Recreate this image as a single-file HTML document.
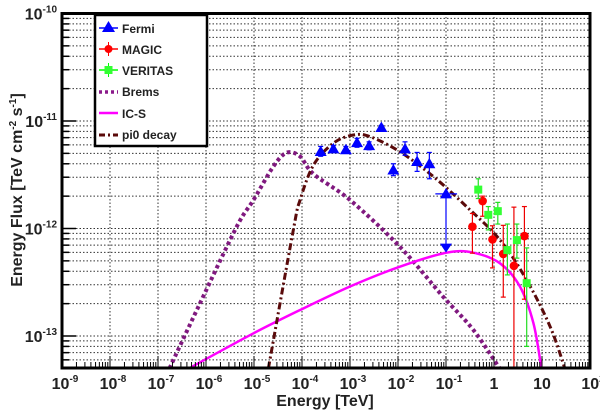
<!DOCTYPE html>
<html><head><meta charset="utf-8"><style>
html,body{margin:0;padding:0;background:#fff;}
svg{display:block;font-family:"Liberation Sans",sans-serif;font-weight:bold;}
</style></head><body>
<svg id="chart" width="600" height="416" viewBox="0 0 600 416">
<g id="grid"></g>
<g id="curves"></g>
<g id="points"></g>
<g id="axes"></g>
<text x="325" y="406" text-anchor="middle" font-size="16" fill="#222">Energy [TeV]</text>
<text transform="translate(22,190) rotate(-90)" text-anchor="middle" font-size="16" fill="#222">Energy Flux [TeV cm<tspan dy="-6" font-size="10">-2</tspan><tspan dy="6"> s</tspan><tspan dy="-6" font-size="10">-1</tspan><tspan dy="6">]</tspan></text>
<g>
<rect x="95" y="15" width="112" height="131" fill="#fff" stroke="#000" stroke-width="2.5"/>
<g><line x1="99" y1="28" x2="118" y2="28" stroke="#00f" stroke-width="1.5"/><polygon points="108.5,21 115,32 102,32" fill="#00f"/><text x="122" y="33" font-size="12" fill="#222">Fermi</text></g>
<g><line x1="99" y1="49" x2="118" y2="49" stroke="#f00" stroke-width="1.5"/><line x1="108.5" y1="42" x2="108.5" y2="56" stroke="#f00"/><circle cx="108.5" cy="49" r="4" fill="#f00"/><text x="122" y="54" font-size="12" fill="#222">MAGIC</text></g>
<g><line x1="99" y1="70" x2="118" y2="70" stroke="#0f0" stroke-width="1.5"/><line x1="108.5" y1="63" x2="108.5" y2="77" stroke="#0f0"/><rect x="104.5" y="66" width="8" height="8" fill="#3f3"/><text x="122" y="75" font-size="12" fill="#222">VERITAS</text></g>
<g><line x1="99" y1="92" x2="118" y2="92" stroke="#8b1a8b" stroke-width="3.5" stroke-dasharray="3,3"/><text x="122" y="96" font-size="12" fill="#222">Brems</text></g>
<g><line x1="99" y1="113" x2="118" y2="113" stroke="#f0f" stroke-width="2.5"/><text x="122" y="118" font-size="12" fill="#222">IC-S</text></g>
<g><line x1="99" y1="135" x2="118" y2="135" stroke="#5a0a0a" stroke-width="3" stroke-dasharray="6,3,2,3"/><text x="122" y="139" font-size="12" fill="#222">pi0 decay</text></g>
</g>
</svg>
<script>
const xTickExps = [-9,-8,-7,-6,-5,-4,-3,-2,-1,0,1,2];
const xTickLabels = ["10^-9","10^-8","10^-7","10^-6","10^-5","10^-4","10^-3","10^-2","10^-1","1","10","10^2"];
const yTickExps = [-13,-12,-11,-10];
const yTickLabels = ["10^-13","10^-12","10^-11","10^-10"];

const fermiE = [2.45e-4,4.5e-4,8.2e-4,1.4e-3,2.5e-3,4.5e-3,8e-3,1.4e-2,2.5e-2,4.5e-2];
const fermiF = [5.2e-12,5.5e-12,5.4e-12,6.3e-12,5.9e-12,8.7e-12,3.5e-12,5.5e-12,4.2e-12,4.0e-12];
const fermiErrLo = [4.7e-12,5.1e-12,5.0e-12,5.7e-12,5.4e-12,8.3e-12,3.1e-12,4.8e-12,3.4e-12,2.9e-12];
const fermiErrHi = [5.8e-12,5.9e-12,5.8e-12,6.9e-12,6.4e-12,9.1e-12,4.0e-12,6.4e-12,5.1e-12,5.1e-12];
const fermiUL_E = [0.1];
const fermiUL_F = [2.1e-12];
const fermiUL_Arrow = [6.1e-13];
const fermiUL_Elo = [0.06];
const fermiUL_Ehi = [0.17];

const magicE = [0.355,0.58,0.93,1.56,2.6,4.3];
const magicF = [1.04e-12,1.8e-12,7.9e-13,5.8e-13,4.5e-13,8.5e-13];
const magicLo = [5.9e-13,1.3e-12,4.3e-13,2.3e-13,1e-14,2.2e-13];
const magicHi = [1.38e-12,2.0e-12,1.06e-12,1.07e-12,1.58e-12,1.6e-12];

const veritasE = [0.47,0.76,1.2,1.9,3.0,4.8];
const veritasF = [2.3e-12,1.34e-12,1.45e-12,6.3e-13,7.8e-13,3.1e-13];
const veritasLo = [1.9e-12,9.7e-13,1.1e-12,3.7e-13,5.3e-13,8e-14];
const veritasHi = [2.9e-12,1.6e-12,1.75e-12,1.1e-12,1.1e-12,6.6e-13];

const bremsLogE = [-6.76,-6.125,-5.36,-5.01,-4.6,-4.32,-4.04,-3.76,-3.0,-1.96,-1.06,-0.43,0.125];
const bremsLogF = [-13.30,-12.696,-11.983,-11.735,-11.425,-11.295,-11.33,-11.493,-11.735,-12.17,-12.634,-12.944,-13.307];
const pi0LogE = [-4.70,-4.18,-4.04,-3.76,-3.35,-2.93,-2.58,-1.96,-1.26,-0.57,0.125,0.68,1.17,1.48];
const pi0LogF = [-13.30,-12.01,-11.735,-11.41,-11.207,-11.13,-11.146,-11.286,-11.518,-11.797,-12.107,-12.479,-12.914,-13.307];
const icsLogE = [-6.35,-5.01,-4.04,-3.0,-1.96,-0.99,-0.43,0.125,0.54,0.82,0.99];
const icsLogF = [-13.30,-12.975,-12.758,-12.54,-12.355,-12.225,-12.225,-12.324,-12.54,-12.88,-13.307];

const X0=62, X1=590, Y0=368, Y1=13.5;
const xMin=-9, xMax=2, yTop=-10, yDec=107.5;
function xs(l){return X0+(l-xMin)*(X1-X0)/(xMax-xMin);}
function ys(l){return Y1+(yTop-l)*yDec;}
function xE(e){return xs(Math.log10(e));}
function yF(f){return Math.min(Y0, ys(Math.log10(f)));}
const NS="http://www.w3.org/2000/svg";
function mk(tag,attrs,parent){const el=document.createElementNS(NS,tag);for(const k in attrs)el.setAttribute(k,attrs[k]);parent.appendChild(el);return el;}
const grid=document.getElementById('grid'), axes=document.getElementById('axes'), curves=document.getElementById('curves'), pts=document.getElementById('points');

xTickExps.forEach(function(ex){
  if(ex===xMin||ex===xMax) return;
  const g=mk('line',{x1:xs(ex),x2:xs(ex),y1:Y1,y2:Y0,stroke:'#333','stroke-width':1,'stroke-dasharray':'1.5,2'},grid);
  
  
});
for(let d=-14; d<=-10; d++){
  for(let m=1;m<=9;m++){
    const y=ys(d+Math.log10(m));
    if(y>=Y0-0.5||y<=Y1+0.5) continue;
    const g=mk('line',{x1:X0,x2:X1,y1:y,y2:y,stroke:'#333','stroke-width':1,'stroke-dasharray':'1.5,2'},grid);
    
    
    const t=mk('line',{x1:X0,x2:X0+(m===1?14:7),y1:y,y2:y,stroke:'#000','stroke-width':1.5},axes);
    
    
  }
}
for(let d=xMin; d<xMax; d++){
  for(let m=1;m<=9;m++){
    const x=xs(d+Math.log10(m));
    const t=mk('line',{x1:x,x2:x,y1:Y0,y2:Y0-(m===1?12:6),stroke:'#000','stroke-width':1},axes);
    
    
  }
}
const fr=mk('rect',{x:X0,y:Y1,width:X1-X0,height:Y0-Y1,fill:'none',stroke:'#000','stroke-width':3},axes);



function label(txt,x,y,anchor,parent){
  const t=mk('text',{x:x,y:y,'text-anchor':anchor,'font-size':16,fill:'#222'},parent);
  if(txt.indexOf('^')>=0){
    const p=txt.split('^');
    t.appendChild(document.createTextNode(p[0]));
    const s=mk('tspan',{dy:-7,'font-size':10},t); s.textContent=p[1];
  } else t.textContent=txt;
  return t;
}
xTickExps.forEach(function(ex,i){
  const t=label(xTickLabels[i],xs(ex)+(xTickLabels[i].length>3?3:0),389,'middle',axes);
  
  
});
yTickExps.forEach(function(ex,i){
  const t=label(yTickLabels[i],57,ys(ex)+6,'end',axes);
  
  
});

const defs=mk('defs',{},document.getElementById('chart'));
const cp=mk('clipPath',{id:'pc'},defs);
mk('rect',{x:X0,y:Y1,width:X1-X0,height:Y0-Y1},cp);
curves.setAttribute('clip-path','url(#pc)');

function curve(le,lf,style,name){
  const P=le.map(function(v,i){return [xs(v),ys(lf[i])];});
  let d='M'+P[0][0].toFixed(1)+','+P[0][1].toFixed(1);
  for(let i=0;i<P.length-1;i++){
    const p0=P[Math.max(0,i-1)],p1=P[i],p2=P[i+1],p3=P[Math.min(P.length-1,i+2)];
    const c1=[p1[0]+(p2[0]-p0[0])/6,p1[1]+(p2[1]-p0[1])/6];
    const c2=[p2[0]-(p3[0]-p1[0])/6,p2[1]-(p3[1]-p1[1])/6];
    d+=' C'+c1[0].toFixed(1)+','+c1[1].toFixed(1)+' '+c2[0].toFixed(1)+','+c2[1].toFixed(1)+' '+p2[0].toFixed(1)+','+p2[1].toFixed(1);
  }
  const p=mk('path',Object.assign({d:d,fill:'none'},style),curves);
  
  
}
curve(bremsLogE,bremsLogF,{stroke:'#80197f','stroke-width':4,'stroke-dasharray':'3.5,3'},'brems-curve');
curve(icsLogE,icsLogF,{stroke:'#f0f','stroke-width':2.5},'ics-curve');
curve(pi0LogE,pi0LogF,{stroke:'#5a0a0a','stroke-width':3,'stroke-dasharray':'7,3,2,3'},'pi0-curve');

function errbar(x,ylo,yhi,col){
  const l=mk('line',{x1:x,x2:x,y1:ylo,y2:yhi,stroke:col,'stroke-width':1.2},pts);
  
  
  [ylo,yhi].forEach(function(y){if(y<Y0-1){const c=mk('line',{x1:x-2.5,x2:x+2.5,y1:y,y2:y,stroke:col,'stroke-width':1.2},pts);}});
}
fermiE.forEach(function(e,i){
  const x=xE(e), y=yF(fermiF[i]);
  errbar(x,yF(fermiErrLo[i]),yF(fermiErrHi[i]),'#00f');
  const p=mk('polygon',{points:x+','+(y-6)+' '+(x+6)+','+(y+4.5)+' '+(x-6)+','+(y+4.5),fill:'#00f'},pts);
  
  
});
fermiUL_E.forEach(function(e,i){
  const x=xE(e), y=yF(fermiUL_F[i]), ya=yF(fermiUL_Arrow[i]);
  const h=mk('line',{x1:xE(fermiUL_Elo[i]),x2:xE(fermiUL_Ehi[i]),y1:y,y2:y,stroke:'#00f','stroke-width':1.2},pts);
  
  
  const v=mk('line',{x1:x,x2:x,y1:y,y2:ya,stroke:'#00f','stroke-width':1.2},pts);
  
  
  const t=mk('polygon',{points:x+','+(y-6)+' '+(x+6)+','+(y+4.5)+' '+(x-6)+','+(y+4.5),fill:'#00f'},pts);
  
  
  const a=mk('polygon',{points:(x-6)+','+(ya-8)+' '+(x+6)+','+(ya-8)+' '+x+','+(ya+1),fill:'#00f'},pts);
  
  
});
magicE.forEach(function(e,i){
  const x=xE(e);
  errbar(x,yF(magicLo[i]),yF(magicHi[i]),'#e00');
  const c=mk('circle',{cx:x,cy:yF(magicF[i]),r:4.3,fill:'#f00'},pts);
  
  
});
veritasE.forEach(function(e,i){
  const x=xE(e);
  errbar(x,yF(veritasLo[i]),yF(veritasHi[i]),'#2d2');
  const r=mk('rect',{x:x-4,y:yF(veritasF[i])-4,width:8,height:8,fill:'#3f3'},pts);
  
  
});
</script>
</body></html>
